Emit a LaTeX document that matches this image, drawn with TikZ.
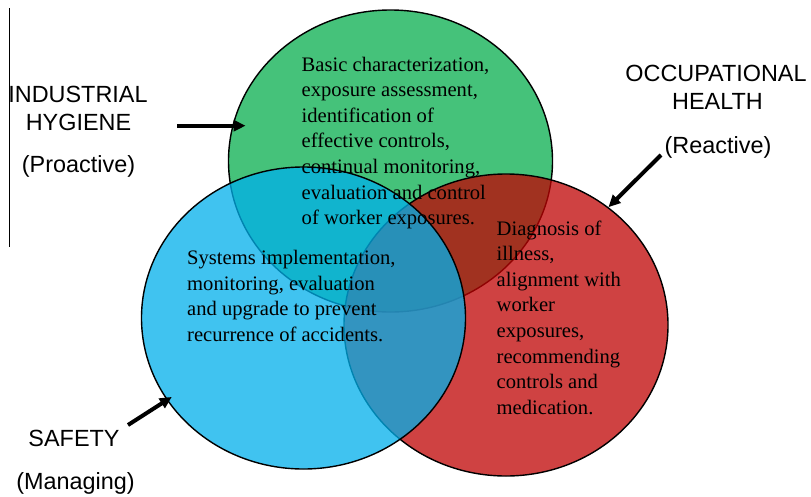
\documentclass[tikz,border=0pt]{standalone}
\usepackage{fontspec}
\setmainfont{Liberation Serif}
\newfontfamily\labelfont{Liberation Sans}
\usepackage{tikz}
\usepackage{xcolor}
\usetikzlibrary{positioning}
\usetikzlibrary{shapes,arrows,arrows.meta}

\definecolor{hygieneGreen}{RGB}{69,194,122}
\definecolor{healthRed}{RGB}{192,3,3}
\definecolor{safetyBlue}{RGB}{0,176,235}

\begin{document}
\begin{tikzpicture} [x=1pt, y=-1pt, >=latex']
            % Set primary nodes
            \tikzset{
                areaNode/.style={
                        draw,
                        ellipse,
                        line width=1.4pt,
                        inner sep=0pt,
                        minimum width=324pt,
                        minimum height=302pt
                    }
            }
            \tikzset{
                areaText/.style={
                        align=left,
                        anchor=base west,
                        inner sep=0pt,
                        font=\fontsize{20.6}{25.6}\selectfont
                    }
            }
            \tikzset{
                titleNode/.style={
                        anchor=base,
                        inner sep=0pt,
                        font=\labelfont\fontsize{23.4}{27}\selectfont
                    }
            }
            % Configure arrows
            \tikzstyle{arrow} = [line width=4pt, -{Triangle[length=12pt, width=11pt]}]
            \fill[white] (0,0) rectangle (811,496);
            \useasboundingbox (0,0) rectangle (811,496);
            \draw[line width=0.8pt] (9.5,8) -- (9.5,247);
            % Placing circles
            \node[areaNode, fill=hygieneGreen](hygiene) at (390.5,161){};
            \node[areaNode, fill=healthRed, fill opacity=0.75](health) at (506,325){};
            \node[areaNode, fill=safetyBlue, fill opacity=0.75](safety) at (303.5,318){};
            % Placing texts (anchored at the last line)
            \node[areaText](hygieneText) at (301.5,224.6){Basic characterization,\\exposure assessment,\\identification of\\effective controls,\\continual monitoring,\\evaluation and control\\of worker exposures.};
            \node[areaText](safetyText) at (187,341.3){Systems implementation,\\monitoring, evaluation\\and upgrade to prevent\\recurrence of accidents.};
            \node[areaText](healthText) at (496.5,414.2){Diagnosis of\\illness,\\alignment with\\worker\\exposures,\\recommending\\controls and\\medication.};
            % Placing labels
            \node[titleNode](hygieneTitle) at (78,102.5){INDUSTRIAL};
            \node[titleNode](hygieneSub) at (78.5,130.5){HYGIENE};
            \node[titleNode](hygieneRole) at (78.5,172){(Proactive)};
            \node[titleNode](healthTitle) at (716,81.5){OCCUPATIONAL};
            \node[titleNode](healthSub) at (717.5,109){HEALTH};
            \node[titleNode](healthRole) at (718,153){(Reactive)};
            \node[titleNode](safetyTitle) at (74,446.5){SAFETY};
            \node[titleNode](safetyRole) at (75.5,489){(Managing)};
            % Draw arrows
            \coordinate (hygieneTail) at (177,125.7);
            \coordinate (healthTail) at (661,155);
            \coordinate (safetyTail) at (128,425);
            \draw[arrow, shorten >=-13pt](hygieneTail) -- (hygiene.167.4 |- hygieneTail);
            \draw[arrow](healthTail) -- (health.49.6);
            \draw[arrow, shorten >=-6pt](safetyTail) -- (safety.211.9);
        \end{tikzpicture}
\end{document}
